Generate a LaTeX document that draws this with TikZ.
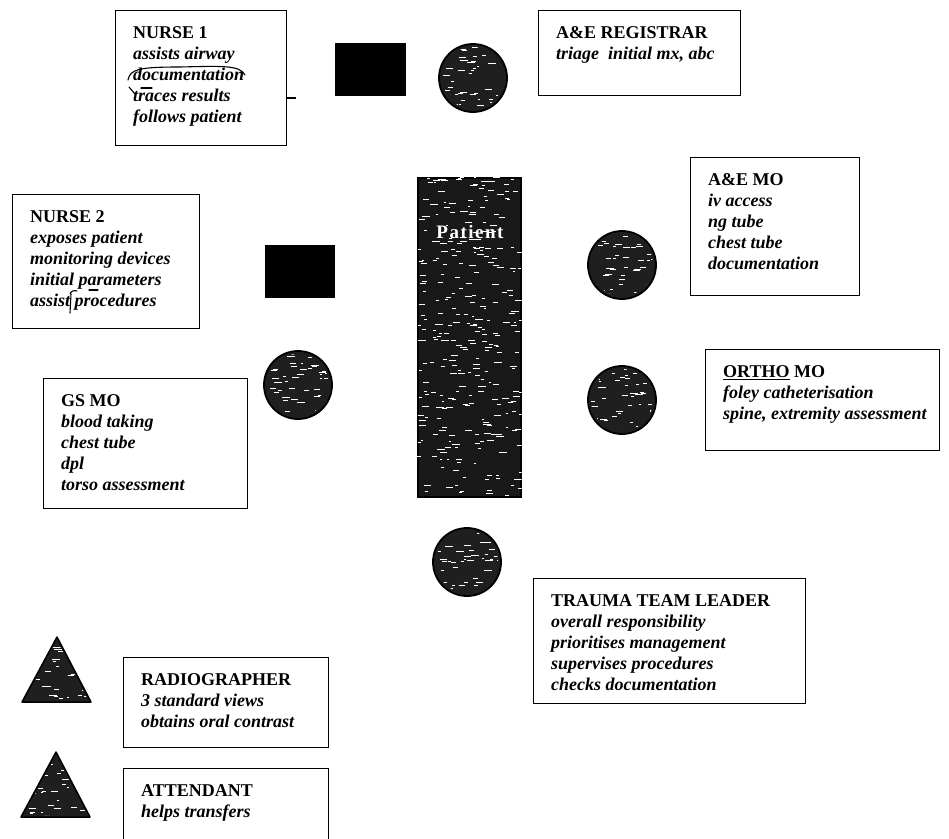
\documentclass[tikz,border=0pt]{standalone}
\usepackage{fontspec}
\setmainfont{Liberation Serif}
\begin{document}
\begin{tikzpicture}[x=1pt,y=-1pt]
\tikzset{
  card/.style={draw, line width=1.3pt, rectangle, inner sep=0pt, anchor=north west},
  cardtext/.style={anchor=north west, inner sep=0pt, align=left,
                   font=\fontsize{18}{21}\selectfont\bfseries\itshape},
  member/.style={circle, draw, line width=1.8pt, fill=black!88, minimum size=68pt, inner sep=0pt},
  runner/.style={rectangle, fill=black, draw=black, inner sep=0pt, anchor=north west},
  speck/.style={white, line width=0.7pt},
  pen/.style={line width=1.1pt, line cap=round}
}
% a role card: name, left, top, width, height, heading, duties
\newcommand\rolecard[7]{%
  \node[card, minimum width=#4pt, minimum height=#5pt] (#1) at (#2,#3) {};
  \node[cardtext] (#1-txt) at ([xshift=18pt,yshift=-16pt]#1.north west)
       {\textup{#6}\\#7};
}
% short white flecks scattered over a region (x, y, width, height, count)
\newcommand\flecks[5]{%
  \foreach \k in {1,...,#5}{
    \pgfmathsetmacro\fx{#1+rnd*#3}
    \pgfmathsetmacro\fy{#2+rnd*#4}
    \pgfmathsetmacro\fl{2+rnd*6}
    \draw[speck] (\fx,\fy) -- ++(\fl,0);
  }}
\pgfmathsetseed{11}

\useasboundingbox (0,0) rectangle (949,838);

% ---- role cards ----
\rolecard{nurseA}{115}{10}{171}{135}{NURSE 1}{assists airway\\documentation\\traces results\\follows patient}
\rolecard{registrar}{538}{10}{202}{85}{A\&E REGISTRAR}{triage\ \ initial mx, abc}
\rolecard{nurseB}{12}{194}{187}{134}{NURSE 2}{exposes patient\\monitoring devices\\initial parameters\\assist procedures}
\rolecard{aemo}{690}{157}{169}{138}{A\&E MO}{iv access\\ng tube\\chest tube\\documentation}
\rolecard{ortho}{705}{349}{234}{101}{\underline{ORTHO} MO}{foley catheterisation\\spine, extremity assessment}
\rolecard{gsmo}{43}{378}{204}{130}{GS MO}{blood taking\\chest tube\\dpl\\torso assessment}
\rolecard{leader}{533}{578}{272}{125}{TRAUMA TEAM LEADER}{overall responsibility\\prioritises management\\supervises procedures\\checks documentation}
\rolecard{radio}{123}{657}{205}{90}{RADIOGRAPHER}{3 standard views\\obtains oral contrast}
\rolecard{attend}{123}{768}{205}{80}{ATTENDANT}{helps transfers}

% short tick on the right side of the NURSE 1 card
\draw[line width=1.1pt] (nurseA.east |- 0,98) -- ++(9,0);

% pen marks over the NURSE 1 duties
\draw[pen] (128,80) .. controls (130,69) and (140,67) .. (180,67)
           .. controls (222,66) and (240,65) .. (245,75);
\draw[pen] (129,87) -- (135,94);
\draw[pen] (141,88) -- (152,88);
% pen marks over the NURSE 2 duties
\draw[pen] (70,294) .. controls (71,291) and (74,290) .. (77,291);
\draw[pen] (71,294) -- (70,313);
\draw[pen] (89,290) -- (98,290);

% ---- nurses' stations ----
\node[runner, minimum width=70pt, minimum height=52pt] (stationA) at (335,43) {};
\node[runner, minimum width=69pt, minimum height=52pt] (stationB) at (265,245) {};

% ---- patient trolley ----
\node[rectangle, draw, line width=1.5pt, fill=black!90, anchor=north west,
      minimum width=103pt, minimum height=319pt, inner sep=0pt] (patient) at (417,177) {};
\begin{scope}
  \clip (patient.north west) rectangle (patient.south east);
  \flecks{417}{177}{103}{319}{300}
\end{scope}
\node[text=white, font=\fontsize{19}{22}\selectfont\bfseries\addfontfeatures{LetterSpace=8}]
     (patientlabel) at (470,232) {Patient};

% ---- doctors around the trolley ----
\foreach \nm/\px/\py in {regdoc/473/78, aedoc/622/265, orthodoc/622/400, gsdoc/298/385, leaddoc/467/562}{
  \node[member] (\nm) at (\px,\py) {};
  \begin{scope}
    \clip (\nm) circle[radius=31pt];
    \flecks{\px-32}{\py-32}{64}{64}{45}
  \end{scope}
}

% ---- radiographer and attendant ----
\foreach \tx/\ty in {57/637, 56/752}{
  \filldraw[fill=black!88, draw=black, line width=1.5pt, line join=round]
    (\tx,\ty) -- (\tx+34,\ty+65) -- (\tx-35,\ty+65) -- cycle;
  \begin{scope}
    \clip (\tx,\ty+3) -- (\tx+31,\ty+63) -- (\tx-32,\ty+63) -- cycle;
    \flecks{\tx-35}{\ty}{69}{65}{35}
  \end{scope}
}
\end{tikzpicture}
\end{document}
